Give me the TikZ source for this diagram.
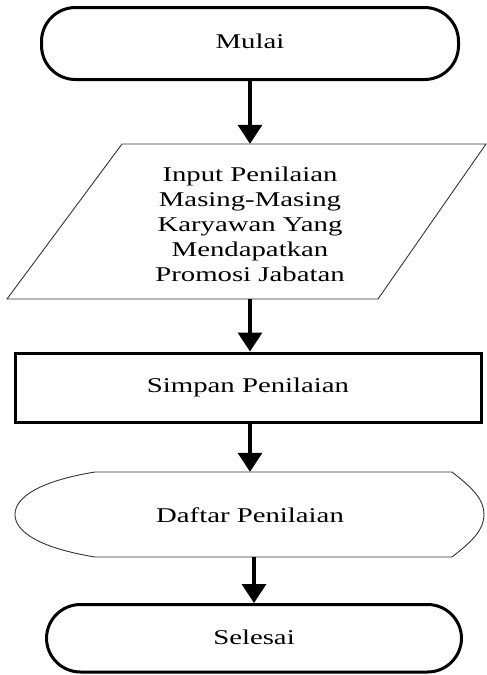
\documentclass[tikz,border=0pt]{standalone}
\usepackage{fontspec}
\setmainfont{Liberation Serif}
\usetikzlibrary{arrows.meta}

% widened serif lettering used for every label
\newcommand{\wtxt}[1]{\scalebox{1.37}[1]{#1}}

\tikzset{
  lbl/.style={font=\fontsize{21}{25}\selectfont, inner sep=0pt, align=center},
  oneline/.style={lbl, text height=14pt, text depth=5pt},
  terminal/.style={oneline, draw=black, line width=3pt, rounded corners=34pt},
  process/.style={oneline, draw=black, line width=3pt},
  thinline/.style={draw=black!80, line width=0.9pt, line join=miter},
  flow/.style={line width=3.5pt, -{Triangle[width=24pt,length=19pt]}}
}

\begin{document}
\begin{tikzpicture}[x=1pt,y=-1pt]
  \useasboundingbox (0,0) rectangle (487,675);

  % start
  \node[terminal, minimum width=417pt, minimum height=72pt] (mulai) at (250,43.5) {\wtxt{Mulai}};

  % input (parallelogram)
  \node[inner sep=0pt, minimum width=364pt, minimum height=155pt] (inp) at (250,221.5) {};
  \draw[thinline] (122,144) -- (486,144) -- (378,299) -- (7,299) -- cycle;
  \node[lbl, anchor=north] (inptxt) at (250,163.5)
    {\wtxt{\begin{tabular}{@{}c@{}}Input Penilaian\\Masing-Masing\\Karyawan Yang\\Mendapatkan\\Promosi Jabatan\end{tabular}}};

  % process
  \node[process, minimum width=466pt, minimum height=69pt] (simpan) at (248,387.5) {\wtxt{Simpan Penilaian}};

  % display
  \node[oneline, minimum width=400pt, minimum height=85pt] (daftar) at (250,514.5) {\raisebox{-3pt}{\wtxt{Daftar Penilaian}}};
  \draw[thinline] (95,472) -- (452,472)
    .. controls (474,489) and (484,500) .. (484,514.5)
    .. controls (484,529) and (474,540) .. (452,557)
    -- (95,557)
    .. controls (40,548) and (15,532) .. (15,514.5)
    .. controls (15,497) and (40,481) .. (95,472) -- cycle;

  % end
  \node[terminal, minimum width=415pt, minimum height=67.5pt] (selesai) at (254,638.25) {\raisebox{-2pt}{\wtxt{Selesai}}};

  % connectors
  \draw[flow] (mulai.south) -- (inp.north);
  \draw[flow] (inp.south) -- (inp.south |- simpan.north);
  \draw[flow] (simpan.south -| daftar.north) -- (daftar.north);
  \draw[flow] (selesai.north |- daftar.south) -- (selesai.north);
\end{tikzpicture}
\end{document}
